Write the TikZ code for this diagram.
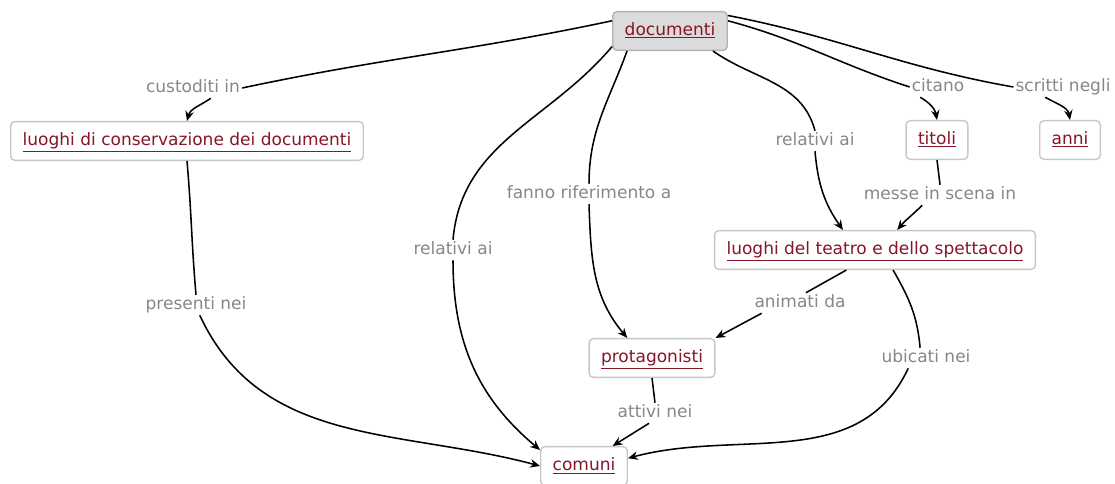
\documentclass[tikz,border=0pt]{standalone}
\usepackage{fontspec}
\setmainfont{DejaVu Sans}
\usepackage{xcolor}
\usetikzlibrary{arrows.meta}
\definecolor{cmred}{RGB}{135,22,40}
\definecolor{cmgray}{RGB}{135,135,135}

\begin{document}
\begin{tikzpicture}[x=0.025cm, y=0.025cm,
    >={Stealth[length=7pt,width=6pt]},
    concept/.style={draw=black!22, line width=1pt, rounded corners=3pt, fill=white,
        text=cmred, inner xsep=8.5pt, minimum height=27.5pt,
        text height=9pt, text depth=2.5pt, font=\fontsize{12.1}{14}\selectfont},
    link/.style={text=cmgray, inner sep=1pt, text height=9pt, text depth=2.5pt,
        font=\fontsize{12.1}{14}\selectfont},
    every path/.style={line width=1.1pt}]
    \useasboundingbox (0,0) rectangle (1115,-484);

    \node[concept, fill=black!14, draw=black!30] (doc) at (670,-31) {\underline{documenti}};
    \node[concept] (cons) at (187,-141) {\underline{luoghi di conservazione dei documenti}};
    \node[concept] (titoli) at (937,-140) {\underline{titoli}};
    \node[concept] (anni) at (1070,-140) {\underline{anni}};
    \node[concept] (teatro) at (875,-250) {\underline{luoghi del teatro e dello spettacolo}};
    \node[concept] (prot) at (652,-358) {\underline{protagonisti}};
    \node[concept] (com) at (584,-466) {\underline{comuni}};

    \node[link] (custoditi) at (193,-88) {custoditi in};
    \node[link] (citano) at (938,-87) {citano};
    \node[link] (scritti) at (1063,-87) {scritti negli};
    \node[link] (relA) at (815,-141) {relativi ai};
    \node[link] (fanno) at (589,-194) {fanno riferimento a};
    \node[link] (messe) at (940,-195) {messe in scena in};
    \node[link] (relB) at (453,-250) {relativi ai};
    \node[link] (presenti) at (196,-305) {presenti nei};
    \node[link] (animati) at (800,-303) {animati da};
    \node[link] (ubicati) at (926,-358) {ubicati nei};
    \node[link] (attivi) at (655,-413) {attivi nei};

    \draw (doc.170) to[out=192, in=12] (custoditi.east);
    \draw[->] (custoditi.-30) to[out=215, in=75] (cons.north);
    \draw (doc.10) to[out=-15, in=162] (citano.west);
    \draw[->] (citano.-150) to[out=-30, in=100] (titoli.north);
    \draw (doc.15) to[out=-11, in=170] (scritti.west);
    \draw[->] (scritti.-150) to[out=-30, in=100] (anni.north);
    \draw (doc.-25) to[out=-35, in=105] (relA.north);
    \draw[->] (relA.south) to[out=-85, in=125] (teatro.148);
    \draw (titoli.south) -- (messe.north);
    \draw[->] (messe.-150) to[out=-135, in=50] (teatro.42);
    \draw (doc.-155) to[out=-110, in=90] (fanno.north);
    \draw[->] (fanno.south) to[out=-88, in=130] (prot.141);
    \draw (doc.-165) to[out=-130, in=85] (relB.north);
    \draw[->] (relB.south) to[out=-90, in=140] (com.160);
    \draw (cons.south) to[out=-85, in=95] (presenti.north);
    \draw[->] (presenti.-70) to[out=-65, in=165] (com.west);
    \draw (teatro.-145) -- (animati.60);
    \draw[->] (animati.-165) -- (prot.north east);
    \draw (teatro.-48) to[out=-60, in=95] (ubicati.120);
    \draw[->] (ubicati.-150) to[out=-115, in=15] (com.10);
    \draw (prot.south) -- (attivi.north);
    \draw[->] (attivi.-120) -- (com.35);
\end{tikzpicture}
\end{document}
